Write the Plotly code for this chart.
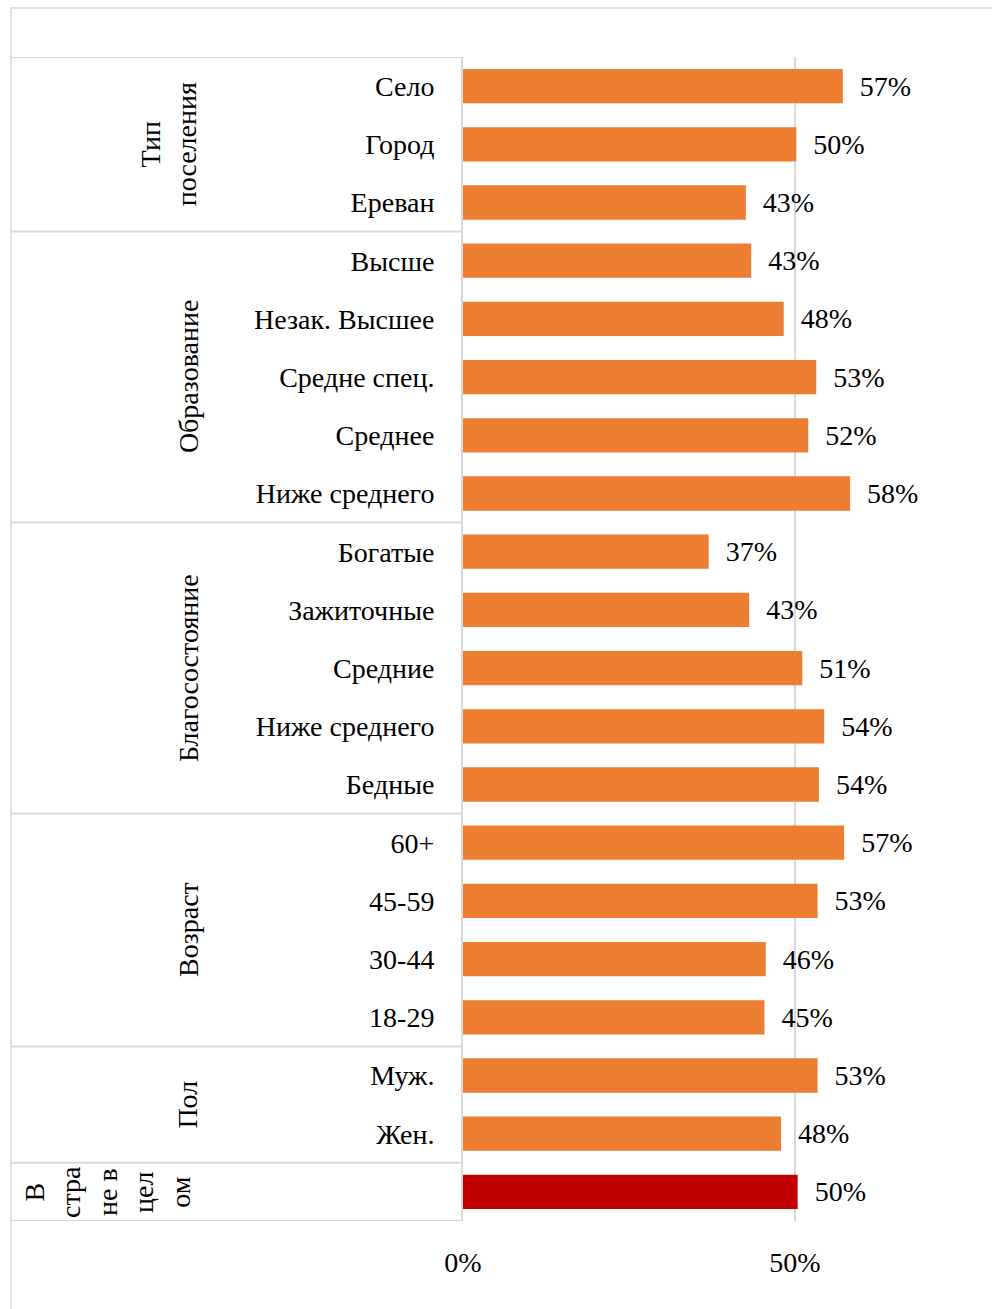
import plotly.graph_objects as go

# ---- data (top to bottom) ----
groups = ["Тип<br>поселения", "Образование", "Благосостояние", "Возраст", "Пол", "В<br>стра<br>не в<br>цел<br>ом"]
group_sizes = [3, 5, 5, 4, 2, 1]
categories = ["Село", "Город", "Ереван",
              "Высше", "Незак. Высшее", "Средне спец.", "Среднее", "Ниже среднего",
              "Богатые", "Зажиточные", "Средние", "Ниже среднего", "Бедные",
              "60+", "45-59", "30-44", "18-29",
              "Муж.", "Жен.",
              ""]
values = [57.2, 50.2, 42.6,
          43.4, 48.3, 53.2, 52.0, 58.3,
          37.0, 43.1, 51.1, 54.4, 53.6,
          57.4, 53.4, 45.6, 45.4,
          53.4, 47.9,
          50.4]
x_ticks = [0, 50]
x_ticktext = ["0%", "50%"]

ORANGE = "#ED7D31"
RED = "#C00000"
GRID = "#D9D9D9"
FONT = "Liberation Serif"
FS = 28

n = len(categories)
ypos = list(range(n))
colors = [ORANGE] * (n - 1) + [RED]

W, H = 992, 1309
ML, MR, MT, MB = 463, 0, 57, 88
pw = W - ML - MR
ph = H - MT - MB

fig = go.Figure()
fig.add_trace(go.Bar(
    x=values, y=ypos, orientation="h",
    marker=dict(color=colors, line=dict(width=0)),
    texttemplate="\u00a0\u00a0%{x:.0f}%", textposition="outside",
    textfont=dict(family=FONT, size=FS, color="black"),
    cliponaxis=False, hoverinfo="skip",
))

shapes = []
# outer border
shapes.append(dict(type="rect", xref="paper", yref="paper",
                   x0=-(ML - 11) / pw, x1=1.2, y0=-0.3, y1=1 + (MT - 8) / ph,
                   line=dict(color=GRID, width=1.5), layer="below"))
# group separators on the left table
xl = -(ML - 11) / pw
bounds = [-0.5]
acc = 0
for s in group_sizes:
    acc += s
    bounds.append(acc - 0.5)
for b in bounds:
    shapes.append(dict(type="line", xref="paper", yref="y", x0=xl, x1=0, y0=b, y1=b,
                       line=dict(color=GRID, width=2)))

annotations = []
start = 0
for g, s in zip(groups, group_sizes):
    center = start + (s - 1) / 2
    start += s
    if g.startswith("Тип"):
        xpx = 168
    elif g.startswith("В<br>"):
        xpx = 108
    else:
        xpx = 188
    annotations.append(dict(x=(xpx - ML) / pw, xref="paper", y=center, yref="y",
                            text=g, textangle=-90, showarrow=False,
                            font=dict(family=FONT, size=FS, color="black"),
                            align="center", xanchor="center", yanchor="middle"))

fig.update_layout(
    width=W, height=H,
    margin=dict(l=ML, r=MR, t=MT, b=MB),
    paper_bgcolor="white", plot_bgcolor="white",
    showlegend=False,
    bargap=0.41,
    shapes=shapes, annotations=annotations,
    xaxis=dict(range=[0, pw / (332 / 50)], tickvals=x_ticks, ticktext=x_ticktext,
               showgrid=True, gridcolor=GRID, gridwidth=2,
               zeroline=False, showline=False,
               ticks="", ticklabelstandoff=22,
               tickfont=dict(family=FONT, size=FS, color="black")),
    yaxis=dict(range=[n - 0.5, -0.5], tickvals=ypos, ticktext=categories,
               showgrid=False, zeroline=False,
               showline=True, linecolor=GRID, linewidth=2,
               ticks="", ticklabelstandoff=21,
               tickfont=dict(family=FONT, size=FS, color="black")),
)

fig.write_html("out.html", config={"displayModeBar": False},
               post_script="document.body.style.margin='0';document.body.style.overflow='hidden';")
